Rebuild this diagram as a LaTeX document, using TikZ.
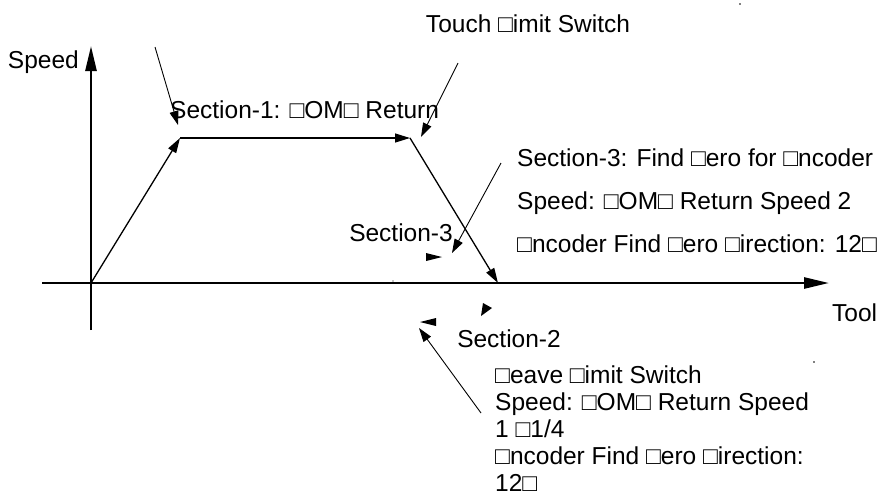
\documentclass[tikz,border=0pt]{standalone}
\usepackage{fontspec}
\setmainfont{Liberation Sans}
\usetikzlibrary{arrows.meta,positioning}

\begin{document}
\begin{tikzpicture}[x=1pt,y=-1pt,node distance=0pt]
  \tikzstyle{lbl}=[inner sep=0pt,text height=17pt,text depth=5pt,font=\fontsize{24.5}{28}\selectfont]
  \tikzstyle{axis}=[line width=2.6pt,-{Triangle[length=25pt,width=11pt]}]
  \tikzstyle{ramp}=[line width=1.3pt,-{Triangle[length=15pt,width=9pt]}]
  \tikzstyle{pointer}=[line width=0.9pt,-{Triangle[length=14pt,width=9pt]}]
  \tikzstyle{tip}=[fill=black]
  \useasboundingbox (0,0) rectangle (885,496);

  % axes
  \coordinate (ybot) at (91,330);
  \coordinate (ytop) at (91,46);
  \coordinate (xleft) at (42,283);
  \coordinate (xright) at (829,283);
  \draw[axis] (ybot) -- (ytop);
  \draw[axis] (xleft) -- (xright);

  % speed profile
  \coordinate (orig) at (91,283);
  \coordinate (rise) at (180,138);
  \coordinate (fall) at (410,138);
  \coordinate (stop) at (498,283);
  \draw[ramp] (orig) -- (rise);
  \draw[ramp] (rise) -- (fall);
  \draw[ramp] (fall) -- (stop);

  % labels
  \node[lbl,anchor=east] (speed) at (79,62) {Speed};
  \node[lbl,anchor=west] (tool) at (832,315) {Tool};
  \node[lbl,anchor=west] (sec1) at (170,112) {Section-1: □OM□ Return};
  \node[lbl] (touch) at (528,26) {Touch □imit Switch};
  \node[lbl,anchor=west] (s3a) at (517,160) {Section-3: Find □ero for □ncoder};
  \node[lbl,below=21pt of s3a.south west,anchor=north west] (s3b) {Speed: □OM□ Return Speed 2};
  \node[lbl,below=21pt of s3b.south west,anchor=north west] (s3c) {□ncoder Find □ero □irection: 12□};
  \node[lbl] (sec3) at (401,235) {Section-3};
  \node[lbl] (sec2) at (509,341) {Section-2};
  \node[lbl,anchor=west] (s2a) at (495,377) {□eave □imit Switch};
  \node[lbl,below=4.7pt of s2a.south west,anchor=north west] (s2b) {Speed: □OM□ Return Speed};
  \node[lbl,below=4.7pt of s2b.south west,anchor=north west] (s2c) {1 □1/4};
  \node[lbl,below=4.7pt of s2c.south west,anchor=north west] (s2d) {□ncoder Find □ero □irection:};
  \node[lbl,below=4.7pt of s2d.south west,anchor=north west] (s2e) {12□};

  % pointers
  \coordinate (p1from) at (155,47);
  \coordinate (p1to) at (178,125);
  \coordinate (tfrom) at (458,63);
  \coordinate (tto) at (421,137);
  \coordinate (p3from) at (501,163);
  \coordinate (p3to) at (452,253);
  \coordinate (p2from) at (481,413);
  \coordinate (p2to) at (419,328);
  \draw[pointer] (p1from) -- (p1to);
  \draw[pointer] (tfrom) -- (tto);
  \draw[pointer] (p3from) -- (p3to);
  \draw[pointer] (p2from) -- (p2to);

  % loose arrow tips
  \fill[tip] (426,253) -- (442,257) -- (426,261) -- cycle;
  \fill[tip] (436,318) -- (420,322) -- (436,326) -- cycle;
  \fill[tip] (483,303) -- (492,308) -- (481,316) -- cycle;

  % stray dots
  \fill (740,4) circle (0.8pt);
  \fill (814,362) circle (0.8pt);
  \fill (393,281) circle (0.7pt);
\end{tikzpicture}
\end{document}
